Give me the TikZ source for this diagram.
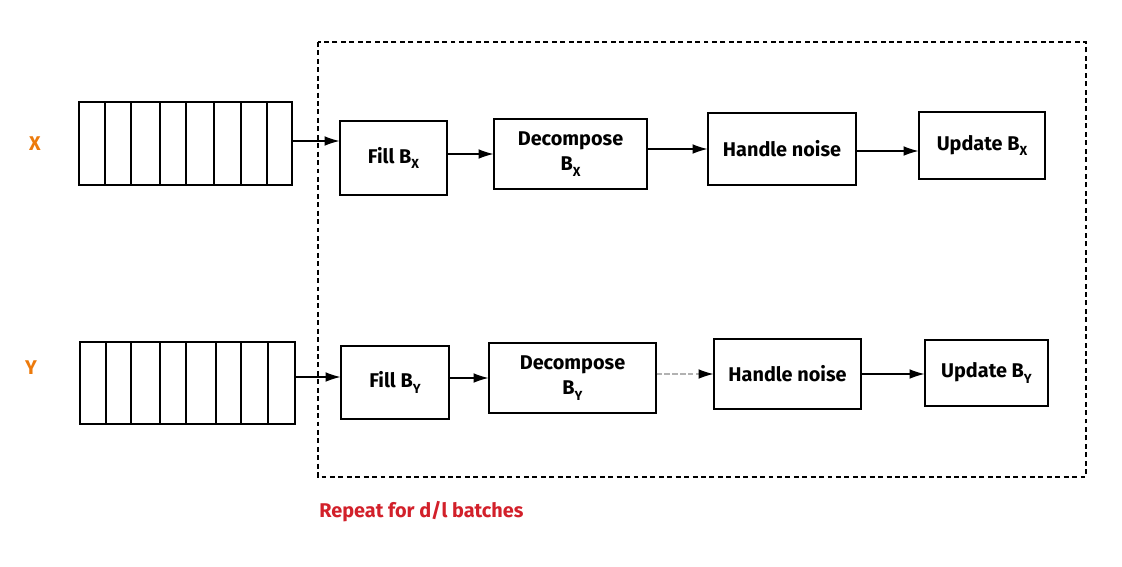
\documentclass[tikz,border=0pt]{standalone}
\usepackage{fontspec}
\setmainfont{Fira Sans}
\usetikzlibrary{arrows.meta}
\definecolor{labelorange}{HTML}{EC7A0C}
\definecolor{repeatred}{HTML}{D2202A}
\newcommand{\lowsub}[1]{\raisebox{-0.55ex}{\fontsize{7.5}{8}\selectfont #1}}

\begin{document}
\begin{tikzpicture}[x=0.02cm, y=-0.02cm, line width=0.6pt,
        every node/.style={font=\bfseries\fontsize{11.3}{14}\selectfont},
        stagebox/.style={draw, align=center, inner sep=0pt},
        flow/.style={-{Latex[length=8.5pt,width=5.5pt]}}]
        \useasboundingbox (0,0) rectangle (1122,566);
        % Repeat frame
        \draw[dash pattern=on 2.8pt off 2pt] (318,42) rectangle (1086,477);
        \node[text=repeatred, anchor=west] (rep) at (313,512) {Repeat for d/l batches};
        % Inputs
        \node[text=labelorange] (lblX) at (35,144) {X};
        \node[text=labelorange] (lblY) at (31,368) {Y};
        \node[draw, minimum width=4.26cm, minimum height=1.66cm, inner sep=0pt] (regX) at (185.5,143.5) {};
        \node[draw, minimum width=4.3cm, minimum height=1.64cm, inner sep=0pt] (regY) at (187.5,383) {};
        \foreach \x in {105,131,160,186,214,241,267}
            \draw (\x,102) -- (\x,185);
        \foreach \x in {106,131,160,186,216,241,268}
            \draw (\x,342) -- (\x,424);
        % Top row
        \node[stagebox, minimum width=2.14cm, minimum height=1.48cm] (fillX) at (393.5,158) {Fill B\lowsub{X}};
        \node[stagebox, minimum width=3.06cm, minimum height=1.40cm] (decX) at (570.5,154) {Decompose\\B\lowsub{X}};
        \node[stagebox, minimum width=2.96cm, minimum height=1.44cm] (hnX) at (782,149) {Handle noise};
        \node[stagebox, minimum width=2.52cm, minimum height=1.34cm] (upX) at (982,145.5) {Update B\lowsub{X}};
        % Bottom row
        \node[stagebox, minimum width=2.16cm, minimum height=1.46cm] (fillY) at (395,382.5) {Fill B\lowsub{Y}};
        \node[stagebox, minimum width=3.34cm, minimum height=1.40cm] (decY) at (572.5,378) {Decompose\\B\lowsub{Y}};
        \node[stagebox, minimum width=2.94cm, minimum height=1.40cm] (hnY) at (787.5,374) {Handle noise};
        \node[stagebox, minimum width=2.46cm, minimum height=1.32cm] (upY) at (986.5,373) {Update B\lowsub{Y}};
        % Arrows
        \draw[flow] ([yshift=0.05cm]regX.east) -- ([yshift=0.05cm]regX.east -| fillX.west);
        \draw[flow] (fillX.east |- decX.west) -- (decX.west);
        \draw[flow] (decX.east |- hnX.west) -- (hnX.west);
        \draw[flow] ([yshift=-0.04cm]hnX.east) -- ([yshift=-0.04cm]hnX.east -| upX.west);
        \draw[flow] ([yshift=0.12cm]regY.east) -- ([yshift=0.12cm]regY.east -| fillY.west);
        \draw[flow] (fillY.east |- decY.west) -- (decY.west);
        \draw[black!30, dash pattern=on 3pt off 1.5pt] (decY.east |- hnY.west) -- ([xshift=-0.3cm]hnY.west);
        \draw[flow] ([xshift=-0.3cm]hnY.west) -- (hnY.west);
        \draw[flow] (hnY.east) -- (hnY.east -| upY.west);
\end{tikzpicture}
\end{document}
